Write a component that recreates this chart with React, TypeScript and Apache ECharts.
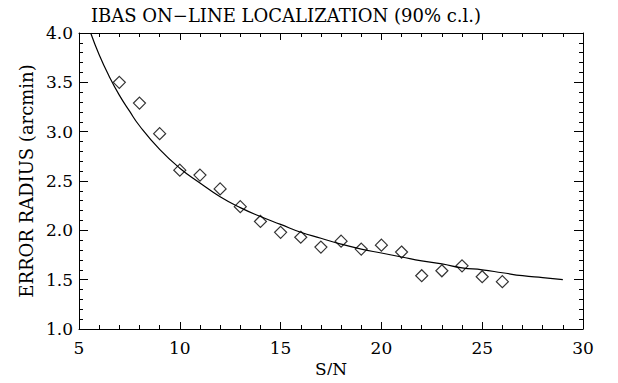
import React, { useEffect, useRef } from "react";
import * as echarts from "echarts";

const title = "IBAS ON\u2212LINE LOCALIZATION (90% c.l.)";
const xName = "S/N";
const yName = "ERROR RADIUS (arcmin)";

// measured points (S/N, error radius)
const pointSN = [7, 8, 9, 10, 11, 12, 13, 14, 15, 16, 17, 18, 19, 20, 21, 22, 23, 24, 25, 26];
const pointR = [3.5, 3.29, 2.98, 2.61, 2.56, 2.42, 2.24, 2.09, 1.98, 1.93, 1.83, 1.89, 1.81, 1.85, 1.78, 1.54, 1.59, 1.64, 1.53, 1.48];

// fitted curve
const curveSN = [5.58, 6, 6.5, 7, 7.5, 8, 9, 10, 11, 12, 13, 14, 15, 16, 17, 18, 19, 20, 21, 22, 23, 24, 25, 26, 27, 28, 29];
const curveR = [4.0, 3.78, 3.56, 3.37, 3.21, 3.06, 2.82, 2.63, 2.48, 2.34, 2.23, 2.14, 2.06, 1.98, 1.92, 1.86, 1.81, 1.77, 1.73, 1.69, 1.66, 1.62, 1.6, 1.57, 1.54, 1.52, 1.5];

const FONT = "DejaVu Serif";
const TICK = "#000";

export default function App() {
  const ref = useRef<HTMLDivElement>(null);
  useEffect(() => {
    if (!ref.current) return;
    const chart = echarts.init(ref.current, undefined, { renderer: "svg" });
    const xBase = {
      type: "value",
      min: 5,
      max: 30,
      interval: 5,
      axisLine: { show: true, onZero: false, lineStyle: { color: "#000" } },
      axisTick: { show: true, inside: true, length: 7, lineStyle: { color: TICK, width: 1 } },
      minorTick: { show: true, splitNumber: 5, length: 4, lineStyle: { color: TICK, width: 1 } },
      splitLine: { show: false },
    };
    const yBase = {
      type: "value",
      min: 1,
      max: 4,
      interval: 0.5,
      axisLine: { show: true, onZero: false, lineStyle: { color: "#000" } },
      axisTick: { show: true, inside: true, length: 9, lineStyle: { color: TICK, width: 1 } },
      minorTick: { show: true, splitNumber: 5, length: 4, lineStyle: { color: TICK, width: 1 } },
      splitLine: { show: false },
    };
    chart.setOption({
      animation: false,
      backgroundColor: "#fff",
      title: {
        text: title,
        left: 281,
        top: 1,
        textAlign: "center",
        textStyle: { fontFamily: FONT, fontWeight: "normal", fontSize: 18, color: "#000" },
      },
      grid: { left: 79, right: 35, top: 33, bottom: 54, containLabel: false },
      xAxis: [
        {
          ...xBase,
          position: "bottom",
          name: xName,
          nameLocation: "middle",
          nameGap: 30,
          nameTextStyle: { fontFamily: FONT, fontSize: 17, color: "#000" },
          axisLabel: { fontFamily: FONT, fontSize: 17, color: "#000", margin: 10 },
        },
        { ...xBase, position: "top", axisLabel: { show: false } },
      ],
      yAxis: [
        {
          ...yBase,
          position: "left",
          name: yName,
          nameLocation: "middle",
          nameGap: 43,
          nameTextStyle: { fontFamily: FONT, fontSize: 18, color: "#000" },
          axisLabel: { fontFamily: FONT, fontSize: 17, color: "#000", margin: 6, formatter: (v: number) => v.toFixed(1) },
        },
        { ...yBase, position: "right", axisLabel: { show: false } },
      ],
      series: [
        {
          type: "line",
          data: curveSN.map((x, i) => [x, curveR[i]]),
          smooth: true,
          showSymbol: false,
          lineStyle: { color: "#000", width: 1.2 },
        },
        {
          type: "scatter",
          data: pointSN.map((x, i) => [x, pointR[i]]),
          symbol: "diamond",
          symbolSize: 12,
          itemStyle: { color: "rgba(0,0,0,0)", borderColor: "#000", borderWidth: 1.2 },
        },
      ],
    });
    return () => chart.dispose();
  }, []);
  return <div ref={ref} style={{ width: 618, height: 383, margin: -8 }} />;
}
